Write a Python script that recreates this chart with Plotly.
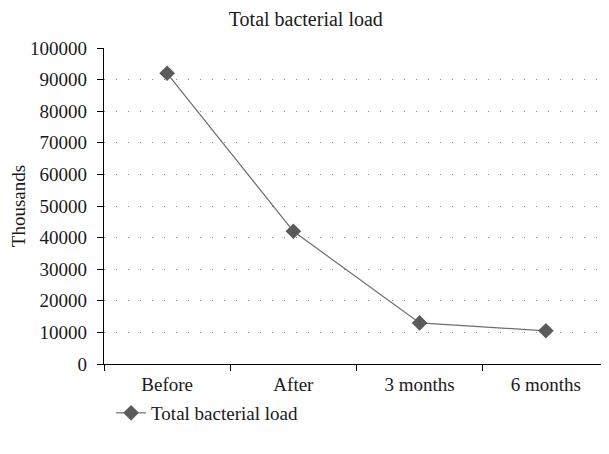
import plotly.graph_objects as go

categories = ["Before", "After", "3 months", "6 months"]
values = [92000, 42000, 13000, 10500]
y_ticks = [0, 10000, 20000, 30000, 40000, 50000, 60000, 70000, 80000, 90000, 100000]
y_tick_labels = [str(v) for v in y_ticks]
series_name = "Total bacterial load"

FONT = "Liberation Serif"
COLOR = "#5b5b5b"
FS = 19

fig = go.Figure()
fig.add_trace(go.Scatter(
    x=categories, y=values, mode="lines+markers", name=series_name,
    line=dict(color="#6e6e6e", width=1.2),
    marker=dict(symbol="diamond", size=12, color=COLOR),
))

fig.update_layout(
    width=609, height=454,
    margin=dict(l=96, r=8, t=40, b=98, autoexpand=False),
    paper_bgcolor="white", plot_bgcolor="white",
    font=dict(family=FONT, size=FS, color="#1a1a1a"),
    title=dict(text="Total bacterial load", x=0.489, xref="container", xanchor="center",
               y=0.976, yref="container", yanchor="middle", font=dict(size=20)),
    showlegend=True,
    legend=dict(orientation="h", x=0.014, xanchor="left", y=-0.155, yanchor="middle",
                font=dict(size=FS), bgcolor="rgba(0,0,0,0)"),
    xaxis=dict(
        type="category", tickson="boundaries", ticks="outside", ticklen=6,
        tickcolor="black", showline=True, linecolor="black", linewidth=1.2,
        showgrid=False, range=[-0.5, 3.5], tickfont=dict(size=FS), automargin=False,
        ticklabelstandoff=3,
    ),
    yaxis=dict(
        range=[0, 100000], tickvals=y_ticks, ticktext=y_tick_labels, ticks="outside", ticklen=6,
        tickcolor="black", showline=True, linecolor="black", linewidth=1.2,
        showgrid=True, gridcolor="#8a8a8a", gridwidth=1, griddash="1px,11px",
        zeroline=False, tickfont=dict(size=FS), automargin=False, ticklabelstandoff=6,
        title=dict(text="Thousands", standoff=8, font=dict(size=FS)),
    ),
)

fig.write_html("out.html")
